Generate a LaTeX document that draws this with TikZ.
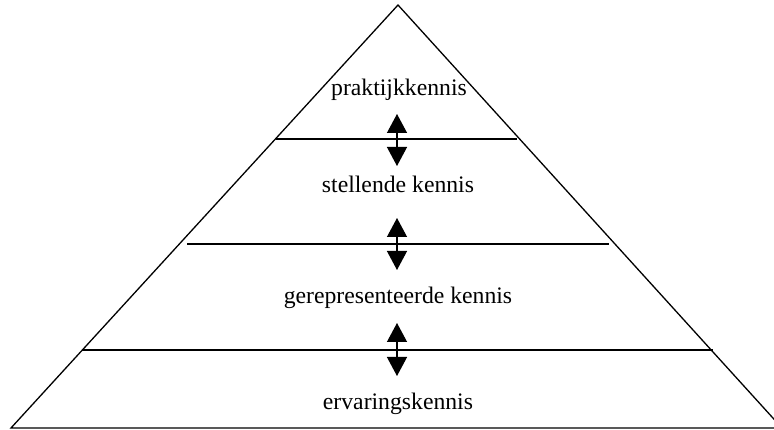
\documentclass[tikz,border=0pt]{standalone}
\usepackage{fontspec}
\setmainfont{Liberation Serif}
\usetikzlibrary{arrows.meta}
\begin{document}
\begin{tikzpicture}[x=1pt,y=-1pt,
  edge/.style={line width=1.3pt, line join=miter},
  divider/.style={line width=1.5pt},
  updown/.style={line width=1.3pt,
    {Triangle[length=19pt,width=20pt]}-{Triangle[length=19pt,width=20pt]}},
  layer/.style={font=\fontsize{23.7}{28}\selectfont, inner sep=0pt, anchor=base}]
  \useasboundingbox (0,0) rectangle (774,430);
  \clip (0,0) rectangle (774,430);

  % outline of the pyramid
  \coordinate (top) at (398,5);
  \coordinate (bl) at (11,428);
  \coordinate (br) at (782,428);
  \draw[edge] (bl) -- (top) -- (br) -- cycle;

  % dividing lines between the layers
  \coordinate (d1l) at (276,139);  \coordinate (d1r) at (517,139);
  \coordinate (d2l) at (187,244);  \coordinate (d2r) at (609,244);
  \coordinate (d3l) at (82,350);   \coordinate (d3r) at (713,350);
  \draw[divider] (d1l) -- (d1r);
  \draw[divider] (d2l) -- (d2r);
  \draw[divider] (d3l) -- (d3r);

  % layer labels
  \node[layer] (l1) at (399,96)  {praktijkkennis};
  \node[layer] (l2) at (398,193) {stellende kennis};
  \node[layer] (l3) at (398,304) {gerepresenteerde kennis};
  \node[layer] (l4) at (398,409) {ervaringskennis};

  % two-way arrows across each divider
  \coordinate (a1t) at (397,114); \coordinate (a1b) at (397,166);
  \coordinate (a2t) at (397,218); \coordinate (a2b) at (397,270);
  \coordinate (a3t) at (397,323); \coordinate (a3b) at (397,376);
  \draw[updown] (a1t) -- (a1b);
  \draw[updown] (a2t) -- (a2b);
  \draw[updown] (a3t) -- (a3b);
\end{tikzpicture}
\end{document}
